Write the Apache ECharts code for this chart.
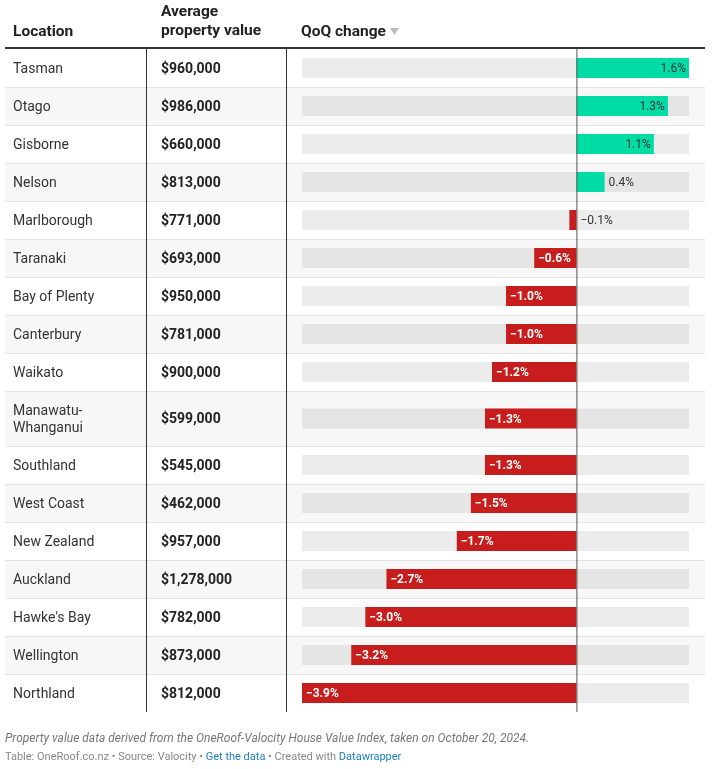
<!DOCTYPE html>
<html>
<head>
<meta charset="utf-8">
<script src="https://cdn.jsdelivr.net/npm/echarts@6/dist/echarts.min.js"></script>
<style>
html,body{margin:0;padding:0;background:#fff;}
#chart{width:716px;height:769px;}
</style>
</head>
<body>
<div id="chart"></div>
<script>
// ---- data ----
const locations = ['Tasman','Otago','Gisborne','Nelson','Marlborough','Taranaki','Bay of Plenty','Canterbury','Waikato','Manawatu-Whanganui','Southland','West Coast','New Zealand','Auckland',"Hawke's Bay",'Wellington','Northland'];
const propertyValues = [960000,986000,660000,813000,771000,693000,950000,781000,900000,599000,545000,462000,957000,1278000,782000,873000,812000];
const qoqChange = [1.6,1.3,1.1,0.4,-0.1,-0.6,-1.0,-1.0,-1.2,-1.3,-1.3,-1.5,-1.7,-2.7,-3.0,-3.2,-3.9];
const headers = ['Location','Average\nproperty value','QoQ change'];
const noteText = 'Property value data derived from the OneRoof-Valocity House Value Index, taken on October 20, 2024.';

// ---- layout helpers ----
const FONT = 'Roboto, "Noto Sans", sans-serif';
const xMinVal = Math.min(...qoqChange), xMaxVal = Math.max(...qoqChange);
const nameLines = locations.map(n => n.indexOf('-') > 0 ? n.replace('-', '-\n') : n);
const rowH = nameLines.map(n => 21 + 17 * n.split('\n').length);
const rowTop = [];
rowH.reduce((acc, h, i) => { rowTop[i] = acc; return acc + h; }, 0);
const totalH = rowH.reduce((a, b) => a + b, 0);

const fmtMoney = v => '$' + v.toLocaleString('en-US');
const fmtPct = v => (v < 0 ? '\u2212' : '') + Math.abs(v).toFixed(1) + '%';

const ctx = document.createElement('canvas').getContext('2d');
function textW(t, font) { ctx.font = font; return ctx.measureText(t).width; }

const chart = echarts.init(document.getElementById('chart'), null, {renderer: 'canvas'});

function renderItem(params, api) {
  const i = api.value(0);
  const v = qoqChange[i];
  const y0 = api.coord([0, rowTop[i]])[1];
  const y1 = api.coord([0, rowTop[i] + rowH[i]])[1];
  const cy = (y0 + y1) / 2;
  const ty = cy + 1;
  const xZero = api.coord([0, 0])[0];
  const xL = api.coord([xMinVal, 0])[0];
  const xR = api.coord([xMaxVal, 0])[0];
  const xv = api.coord([v, 0])[0];
  const odd = i % 2 === 1;
  const children = [];
  if (odd) children.push({type: 'rect', shape: {x: 5, y: y0, width: 700, height: y1 - y0}, style: {fill: '#f7f7f7'}});
  if (i > 0) children.push({type: 'line', shape: {x1: 5, y1: y0 + 0.5, x2: 705, y2: y0 + 0.5}, style: {stroke: '#e3e3e3', lineWidth: 1}});
  // track
  children.push({type: 'rect', shape: {x: xL, y: cy - 10, width: xR - xL, height: 20}, style: {fill: odd ? '#e5e5e5' : '#ececec'}});
  // bar
  const bx = Math.min(xv, xZero), bw = Math.abs(xv - xZero);
  children.push({type: 'rect', shape: {x: bx, y: cy - 10, width: bw, height: 20}, style: {fill: v >= 0 ? '#00dca6' : '#c71e1d'}});
  // label
  const lab = fmtPct(v);
  const fontIn = (v < 0 ? 'bold ' : '') + '12px ' + FONT;
  const tw = textW(lab, fontIn);
  if (bw > tw + 8) {
    if (v >= 0) {
      children.push({type: 'text', style: {text: lab, x: xv - 3, y: ty, align: 'right', verticalAlign: 'middle', font: '12px ' + FONT, fill: '#333'}});
    } else {
      children.push({type: 'text', style: {text: lab, x: xv + 4, y: ty, align: 'left', verticalAlign: 'middle', font: 'bold 12px ' + FONT, fill: '#fff'}});
    }
  } else {
    children.push({type: 'text', style: {text: lab, x: Math.max(xv, xZero) + 4, y: ty, align: 'left', verticalAlign: 'middle', font: '12px ' + FONT, fill: '#333'}});
  }
  // zero line
  children.push({type: 'line', shape: {x1: xZero + 0.5, y1: y0, x2: xZero + 0.5, y2: y1}, style: {stroke: '#555', lineWidth: 1}});
  // dividers
  children.push({type: 'line', shape: {x1: 146.5, y1: y0, x2: 146.5, y2: y1}, style: {stroke: '#333', lineWidth: 1}});
  children.push({type: 'line', shape: {x1: 286.5, y1: y0, x2: 286.5, y2: y1}, style: {stroke: '#333', lineWidth: 1}});
  // texts
  children.push({type: 'text', style: {text: nameLines[i], x: 13, y: ty, align: 'left', verticalAlign: 'middle', font: '14px ' + FONT, fill: '#333', lineHeight: 17}});
  children.push({type: 'text', style: {text: fmtMoney(propertyValues[i]), x: 161, y: ty, align: 'left', verticalAlign: 'middle', font: 'bold 14px ' + FONT, fill: '#222'}});
  return {type: 'group', children};
}

const HFONT = 'bold 15.5px ' + FONT;
const option = {
  animation: false,
  backgroundColor: '#fff',
  grid: {left: 302, right: 27, top: 49, bottom: 57},
  xAxis: {type: 'value', min: xMinVal, max: xMaxVal, show: false},
  yAxis: {type: 'value', min: 0, max: totalH, inverse: true, show: false},
  series: [{
    type: 'custom',
    renderItem: renderItem,
    data: locations.map((n, i) => [i]),
    encode: {x: -1, y: -1},
    clip: false,
    silent: true
  }],
  graphic: [
    {type: 'text', left: 13, top: 24, style: {text: headers[0], font: HFONT, fill: '#222'}},
    {type: 'text', left: 161, top: 3, style: {text: headers[1], font: HFONT, fill: '#222', lineHeight: 19}},
    {type: 'text', left: 301, top: 24, style: {text: headers[2], font: HFONT, fill: '#222'}},
    {type: 'polygon', shape: {points: [[390, 28], [399, 28], [394.5, 35]]}, style: {fill: '#bbb'}},
    {type: 'rect', shape: {x: 5, y: 47, width: 700, height: 2}, style: {fill: '#333'}},
    {type: 'text', left: 5, top: 733, style: {text: noteText, font: 'italic 12px ' + FONT, fill: '#777'}},
    {type: 'text', left: 5, top: 752, style: {
      text: '{g|Table: OneRoof.co.nz \u2022 Source: Valocity \u2022 }{b|Get the data}{g| \u2022 Created with }{b|Datawrapper}',
      rich: {
        g: {font: '11px ' + FONT, fill: '#888'},
        b: {font: '11px ' + FONT, fill: '#1d81c4'}
      }
    }}
  ]
};
chart.setOption(option);
</script>
</body>
</html>
